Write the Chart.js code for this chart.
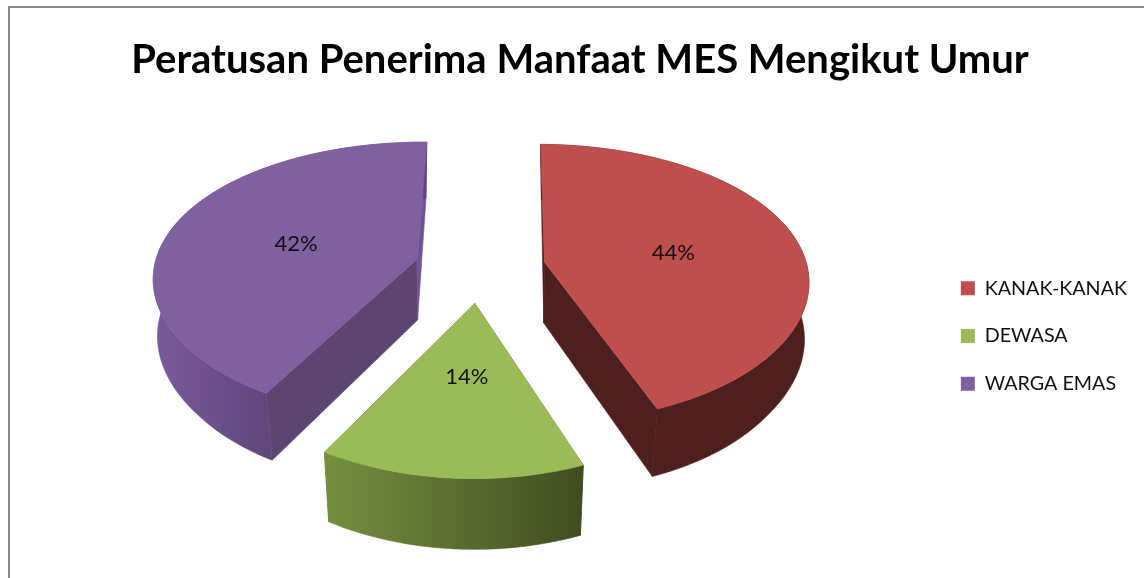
<!DOCTYPE html>
<html>
<head>
<meta charset="utf-8">
<title>Peratusan Penerima Manfaat MES Mengikut Umur</title>
<script src="https://cdn.jsdelivr.net/npm/chart.js@4/dist/chart.umd.js"></script>
<style>
    html, body { margin: 0; background: #fff; overflow: hidden; }
    #frame { position: absolute; left: 8px; top: 6px; width: 2000px; height: 1000px; border: 2px solid #868686; }
    #wrap { position: absolute; left: 0; top: 0; width: 1144px; height: 578px; }
</style>
</head>
<body>
<div id="frame"></div>
<div id="wrap"><canvas id="mesChart"></canvas></div>
<script>
const chartTitle = 'Peratusan Penerima Manfaat MES Mengikut Umur';
const categories = ['KANAK-KANAK', 'DEWASA', 'WARGA EMAS'];
const percentages = [44, 14, 42];

const topColors = ['#be4f4d', '#9bbb59', '#7f61a0'];
const cutWallColors = ['#4d1f1e', '#4f6028', '#5b4672'];
const sliverColors = ['#4d1f1e', '#4f6028', '#6f5491'];
const outerWallLeft = ['#4d1f1e', '#75903f', '#785a9b'];
const outerWallRight = ['#4d1f1e', '#3f4c20', '#60477b'];
const labelRadius = [0.5, 0.45, 0.5];

// Camera for the tilted pie: radius 1 on the plane, nearer points get bigger
const cam = { cx: 480, cy: 268, fx: 263, fy: 137, kx: 0.12, ky: 0.15 };
const explode = 0.25;

function project(u, v) {
    return {
        x: cam.cx + cam.fx * u / (1 - cam.kx * v),
        y: cam.cy + cam.fy * v / (1 - cam.ky * v)
    };
}

// Same point on the underside of the slab
function lower(p) {
    const squeeze = Math.max(0.972, 0.99 - 0.0002 * (p.y - 262));
    return {
        x: cam.cx + (p.x - cam.cx) * squeeze,
        y: p.y + 61 + 0.045 * (p.y - 262)
    };
}

function fillPath(ctx, points, style) {
    ctx.beginPath();
    points.forEach((p, i) => i ? ctx.lineTo(p.x, p.y) : ctx.moveTo(p.x, p.y));
    ctx.closePath();
    ctx.fillStyle = style;
    ctx.strokeStyle = style;
    ctx.lineWidth = 0.6;
    ctx.fill();
    ctx.stroke();
}

function drawSlice(ctx, arc, i) {
    const mid = (arc.startAngle + arc.endAngle) / 2;
    const ox = Math.cos(mid) * explode;
    const oy = Math.sin(mid) * explode;
    const apex = project(ox, oy);

    const rim = [];
    const steps = 80;
    for (let s = 0; s <= steps; s++) {
        const a = arc.startAngle + (arc.endAngle - arc.startAngle) * s / steps;
        rim.push({ a: a, p: project(ox + Math.cos(a), oy + Math.sin(a)) });
    }
    const rimTop = rim.map(r => r.p);
    const rimBottom = rimTop.map(lower);

    // The two cut walls go first, the outer wall covers them where it should
    const first = rimTop[0];
    const last = rimTop[rimTop.length - 1];
    const startIsBack = first.y < last.y;
    fillPath(ctx, [apex, first, lower(first), lower(apex)], startIsBack ? sliverColors[i] : cutWallColors[i]);
    fillPath(ctx, [apex, last, lower(last), lower(apex)], startIsBack ? cutWallColors[i] : sliverColors[i]);

    // Outer wall, shaded only across the part that faces us
    const front = rim.filter(r => Math.sin(r.a) > -0.05).map(r => r.p.x);
    const grad = ctx.createLinearGradient(Math.min(...front), 0, Math.max(...front), 0);
    grad.addColorStop(0, outerWallLeft[i]);
    grad.addColorStop(1, outerWallRight[i]);
    fillPath(ctx, rimTop.concat(rimBottom.slice().reverse()), grad);

    // Top face
    fillPath(ctx, [apex].concat(rimTop), topColors[i]);

    // Value label
    const pos = project(ox + Math.cos(mid) * labelRadius[i], oy + Math.sin(mid) * labelRadius[i]);
    ctx.fillStyle = '#111';
    ctx.font = '22px Lato';
    ctx.textAlign = 'center';
    ctx.textBaseline = 'middle';
    ctx.fillText(percentages[i] + '%', pos.x + 2, pos.y + 2);
}

const pie3d = {
    id: 'pie3d',
    beforeDatasetDraw(chart, args) {
        const ctx = chart.ctx;
        ctx.save();
        args.meta.data.forEach((arc, i) => drawSlice(ctx, arc, i));
        ctx.restore();
        return false;
    }
};

new Chart(document.getElementById('mesChart'), {
    type: 'pie',
    data: {
        labels: categories,
        datasets: [{
            data: percentages,
            backgroundColor: topColors,
            borderWidth: 0
        }]
    },
    options: {
        responsive: true,
        maintainAspectRatio: false,
        animation: false,
        rotation: 0.75,
        layout: {
            padding: { left: 23, right: 7, top: 0, bottom: 10 }
        },
        plugins: {
            title: {
                display: true,
                text: chartTitle,
                color: '#000',
                font: { family: 'Lato', size: 40, weight: 'bold' },
                padding: { top: 36, bottom: 20 }
            },
            legend: {
                position: 'right',
                fullSize: false,
                labels: {
                    boxWidth: 14,
                    boxHeight: 14,
                    padding: 28,
                    color: '#111',
                    font: { family: 'Lato', size: 19.7 }
                }
            },
            tooltip: { enabled: false }
        }
    },
    plugins: [pie3d]
});
</script>
</body>
</html>
